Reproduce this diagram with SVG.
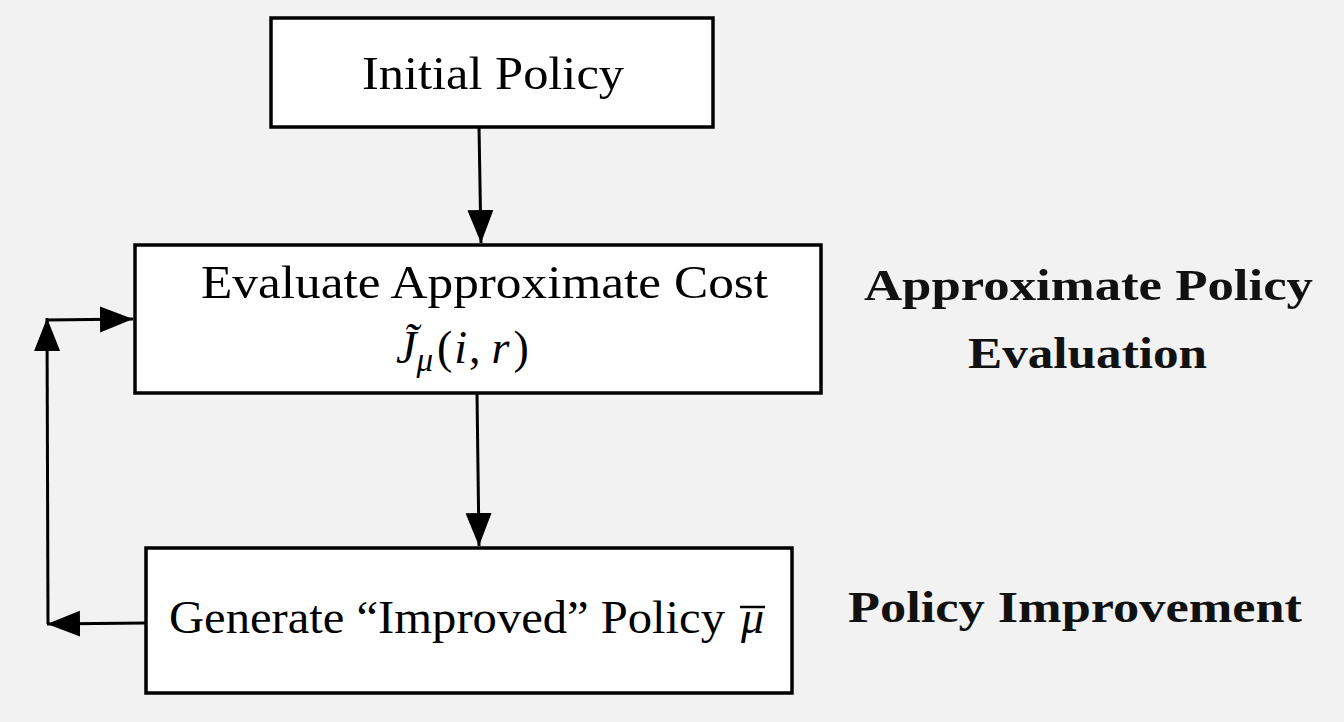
<svg xmlns="http://www.w3.org/2000/svg" width="1344" height="722" viewBox="0 0 1344 722">
<style>
.box{fill:#ffffff;stroke:#000000;stroke-width:3.5}
.t{font-family:"Liberation Serif","DejaVu Serif",serif;font-size:46px;fill:#000000}
.it{font-style:italic}
.b{font-family:"Liberation Serif","DejaVu Serif",serif;font-size:44px;font-weight:bold;fill:#111111}
.c{stroke:#000000;stroke-width:3;fill:none}
</style>
<defs>
<marker id="ah" markerUnits="userSpaceOnUse" markerWidth="34" markerHeight="28" refX="33" refY="13" orient="auto">
<path d="M0,0 L33,13 L0,26 Z" fill="#000000"/>
</marker>
</defs>
<rect width="1344" height="722" fill="#f2f2f2"/>
<g id="connectors">
<line class="c" x1="479" y1="127" x2="481" y2="243" marker-end="url(#ah)"/>
<line class="c" x1="477" y1="393" x2="479" y2="546" marker-end="url(#ah)"/>
<line class="c" x1="146" y1="623" x2="47" y2="624" marker-end="url(#ah)"/>
<line class="c" x1="48" y1="624" x2="47" y2="318" marker-end="url(#ah)"/>
<line class="c" x1="47" y1="320" x2="133" y2="319" marker-end="url(#ah)"/>
</g>
<g id="node-initial">
<rect class="box" x="271" y="18" width="442" height="109"/>
<text class="t" x="362" y="89" textLength="262" lengthAdjust="spacingAndGlyphs">Initial Policy</text>
</g>
<g id="node-evaluate">
<rect class="box" x="135" y="245" width="686" height="148"/>
<text class="t" x="201" y="298" textLength="567" lengthAdjust="spacingAndGlyphs">Evaluate Approximate Cost</text>
<text class="t" x="396" y="363" font-size="50"><tspan class="it">J̃</tspan><tspan class="it" font-size="33" dy="8">μ</tspan><tspan dy="-8" dx="4">(</tspan><tspan class="it" dx="2">i</tspan><tspan dx="2">,</tspan><tspan class="it" dx="11">r</tspan><tspan dx="4">)</tspan></text>
</g>
<g id="node-generate">
<rect class="box" x="146" y="548" width="646" height="145"/>
<text class="t" x="169" y="633" textLength="556" lengthAdjust="spacingAndGlyphs">Generate “Improved” Policy</text>
<text class="t it" x="741" y="633">μ</text>
<line x1="740" y1="607" x2="765" y2="607" stroke="#000000" stroke-width="2.5"/>
</g>
<g id="label-evaluation">
<text class="b" x="864" y="300" textLength="449" lengthAdjust="spacingAndGlyphs">Approximate Policy</text>
<text class="b" x="968" y="368" textLength="239" lengthAdjust="spacingAndGlyphs">Evaluation</text>
</g>
<g id="label-improvement">
<text class="b" x="848" y="622" textLength="454" lengthAdjust="spacingAndGlyphs">Policy Improvement</text>
</g>
</svg>
